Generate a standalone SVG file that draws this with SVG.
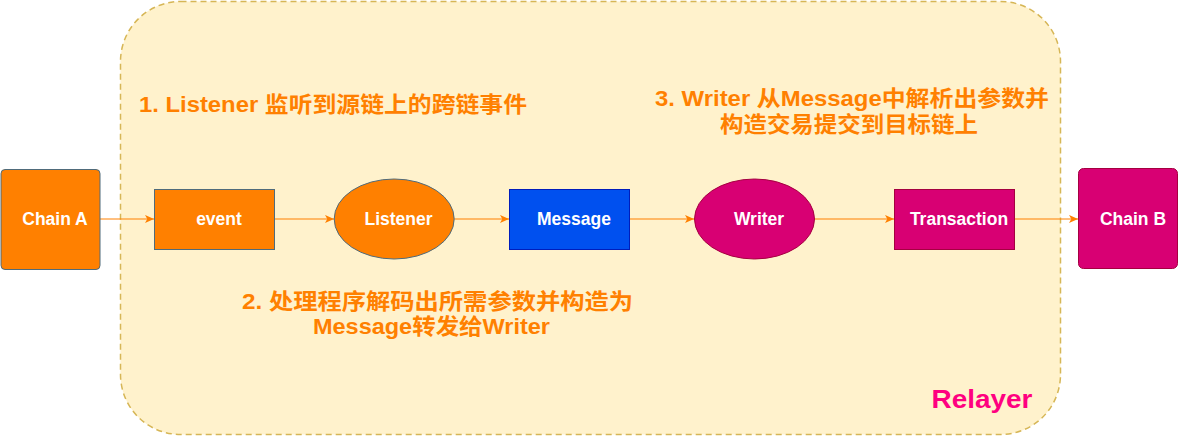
<svg xmlns="http://www.w3.org/2000/svg" width="1179" height="436" viewBox="0 0 1179 436">
<style>
.lbl{font-family:"Liberation Sans","Noto Sans CJK SC",sans-serif;font-weight:bold;font-size:17.5px;fill:#ffffff;text-anchor:middle}
.note{font-family:"Liberation Sans","Noto Sans CJK SC",sans-serif;font-weight:bold;font-size:22px;fill:#FF8000}
.edge{stroke:#FF8000;stroke-width:1;fill:none;marker-end:url(#arr)}
.orange{fill:#FF8000;stroke:#4f6b7b;stroke-width:1}
.magenta{fill:#d80073;stroke:#A50040;stroke-width:1}
.blue{fill:#0050ef;stroke:#001DBC;stroke-width:1}
</style>
<defs>
<marker id="arr" viewBox="0 0 10 10" refX="10" refY="5" markerWidth="9" markerHeight="9" markerUnits="userSpaceOnUse" orient="auto">
<path d="M0,0.5 L10,5 L0,9.5 L2.5,5 Z" fill="#FF8000"/>
</marker>
</defs>
<rect width="1179" height="436" fill="#ffffff"/>
<g id="relayer">
<rect x="120.5" y="1.5" width="940" height="433" rx="60" ry="60" fill="#fff2cc" stroke="#d6b656" stroke-width="1.5" stroke-dasharray="6,4"/>
<text x="982" y="408" text-anchor="middle" style="font-family:'Liberation Sans',sans-serif;font-weight:bold;font-size:25px;fill:#FF0080" textLength="101" lengthAdjust="spacingAndGlyphs">Relayer</text>
</g>
<g id="note1">
<text class="note" x="139" y="112" textLength="388" lengthAdjust="spacingAndGlyphs">1. Listener 监听到源链上的跨链事件</text>
</g>
<g id="note2">
<text class="note" x="242" y="309" textLength="391" lengthAdjust="spacingAndGlyphs">2. 处理程序解码出所需参数并构造为</text>
<text class="note" x="313" y="334" textLength="237" lengthAdjust="spacingAndGlyphs">Message转发给Writer</text>
</g>
<g id="note3">
<text class="note" x="655" y="106" textLength="394" lengthAdjust="spacingAndGlyphs">3. Writer 从Message中解析出参数并</text>
<text class="note" x="720" y="132" textLength="258" lengthAdjust="spacingAndGlyphs">构造交易提交到目标链上</text>
</g>
<g id="connectors">
<line class="edge" x1="100" y1="219" x2="154" y2="219"/>
<line class="edge" x1="274.5" y1="219" x2="334" y2="219"/>
<line class="edge" x1="454.5" y1="219" x2="509" y2="219"/>
<line class="edge" x1="630" y1="219" x2="694" y2="219"/>
<line class="edge" x1="815" y1="219" x2="894" y2="219"/>
<line class="edge" x1="1014.5" y1="219" x2="1078" y2="219"/>
</g>
<g id="chainA">
<rect class="orange" x="1" y="169.5" width="99" height="100" rx="4" ry="4"/>
<text class="lbl" x="55" y="225">Chain A</text>
</g>
<g id="event">
<rect class="orange" x="154.5" y="189.5" width="120" height="60"/>
<text class="lbl" x="219" y="225">event</text>
</g>
<g id="listener">
<ellipse class="orange" cx="394.2" cy="219" rx="60" ry="40"/>
<text class="lbl" x="398.5" y="225">Listener</text>
</g>
<g id="message">
<rect class="blue" x="509.5" y="189.5" width="120" height="60"/>
<text class="lbl" x="574" y="225">Message</text>
</g>
<g id="writer">
<ellipse class="magenta" cx="754.5" cy="219" rx="60" ry="40"/>
<text class="lbl" x="759" y="225">Writer</text>
</g>
<g id="transaction">
<rect class="magenta" x="894.5" y="189.5" width="120" height="60"/>
<text class="lbl" x="959" y="225">Transaction</text>
</g>
<g id="chainB">
<rect class="magenta" x="1078.5" y="168.5" width="99" height="100" rx="5" ry="5"/>
<text class="lbl" x="1133" y="225">Chain B</text>
</g>
</svg>
